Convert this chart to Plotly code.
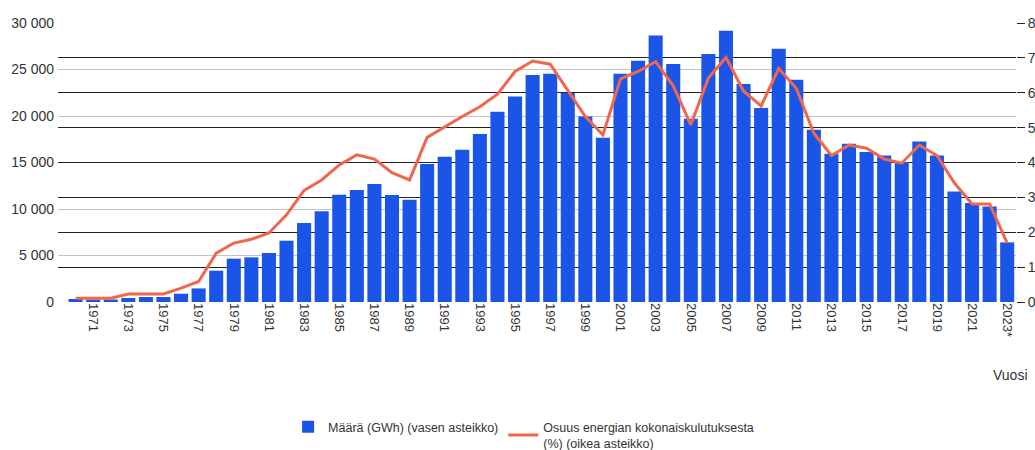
import plotly.graph_objects as go

# Vuodet 1970-2023
years = list(range(1970, 2024))

# Määrä (GWh), vasen asteikko
amount_gwh = [
    320, 260, 270, 430, 540, 540, 890, 1460, 3370, 4660,
    4800, 5270, 6590, 8490, 9750, 11540, 12040, 12690, 11500, 11000,
    14830, 15620, 16370, 18060, 20460, 22100, 24400, 24540, 22470, 19950,
    17660, 24540, 25940, 28660, 25590, 19700, 26660, 29170, 23440, 20860,
    27230, 23900, 18520, 15940, 17020, 16130, 15760, 15050, 17270, 15760,
    11890, 10640, 10280, 6410,
]

# Osuus energian kokonaiskulutuksesta (%), oikea asteikko
share_pct = [
    0.11, 0.11, 0.11, 0.23, 0.23, 0.23, 0.4, 0.59, 1.4, 1.69,
    1.8, 1.98, 2.5, 3.2, 3.5, 3.93, 4.22, 4.1, 3.71, 3.5,
    4.72, 5.03, 5.32, 5.6, 5.96, 6.61, 6.91, 6.82, 6.08, 5.32,
    4.79, 6.4, 6.61, 6.89, 6.2, 5.08, 6.42, 7.01, 6.05, 5.62,
    6.7, 6.13, 4.84, 4.2, 4.5, 4.41, 4.1, 3.98, 4.5, 4.2,
    3.41, 2.81, 2.81, 1.69,
]

tick_years = list(range(1971, 2024, 2))
tick_labels = [str(y) for y in tick_years[:-1]] + ["2023*"]

COLOR_BAR = "#1b55e8"
COLOR_LINE = "#f0674b"
COLOR_TEXT = "#333333"
FONT = "Liberation Sans, Arial, sans-serif"

fig = go.Figure()
fig.add_trace(
    go.Bar(
        x=years,
        y=amount_gwh,
        name="Määrä (GWh) (vasen asteikko)",
        marker=dict(color=COLOR_BAR, line=dict(width=0)),
        yaxis="y",
    )
)
fig.add_trace(
    go.Scatter(
        x=years,
        y=share_pct,
        mode="lines",
        name="Osuus energian kokonaiskulutuksesta<br>(%) (oikea asteikko)",
        line=dict(color=COLOR_LINE, width=3),
        yaxis="y2",
    )
)

fig.update_layout(
    width=1035,
    height=450,
    margin=dict(l=58, r=19, t=23, b=148, autoexpand=False),
    paper_bgcolor="white",
    plot_bgcolor="white",
    separators=", ",
    bargap=0.2,
    font=dict(family=FONT, size=14, color=COLOR_TEXT),
    xaxis=dict(
        range=[1969, 2023.5],
        tickmode="array",
        tickvals=tick_years,
        ticktext=tick_labels,
        tickangle=90,
        showgrid=False,
        zeroline=False,
        showline=False,
        ticks="",
        automargin=False,
        tickfont=dict(size=13, color=COLOR_TEXT),
    ),
    yaxis=dict(
        range=[0, 30000],
        dtick=5000,
        tickformat=",d",
        gridcolor="#c4c4c4",
        gridwidth=1,
        zeroline=False,
        showline=False,
        automargin=False,
        ticklabelstandoff=3,
        tickfont=dict(size=14, color=COLOR_TEXT),
    ),
    yaxis2=dict(
        range=[0, 8],
        dtick=1,
        overlaying="y",
        side="right",
        showgrid=True,
        gridcolor="#222222",
        gridwidth=1,
        zeroline=False,
        ticks="outside",
        ticklen=8,
        tickcolor="#222222",
        automargin=False,
        tickfont=dict(size=14, color=COLOR_TEXT),
    ),
    legend=dict(
        orientation="h",
        x=0.486,
        xanchor="center",
        y=-0.395,
        yanchor="top",
        tracegroupgap=0,
        font=dict(size=12.5, color=COLOR_TEXT),
        bgcolor="rgba(0,0,0,0)",
    ),
    annotations=[
        dict(
            text="Vuosi",
            xref="paper",
            yref="paper",
            x=1.015,
            y=-0.26,
            xanchor="right",
            yanchor="middle",
            showarrow=False,
            font=dict(size=14, color=COLOR_TEXT),
        )
    ],
)

# page default body margin would shift the figure by 8px
fig.write_html(
    "out.html",
    config={"displayModeBar": False},
    post_script="document.body.style.margin='0';",
)
